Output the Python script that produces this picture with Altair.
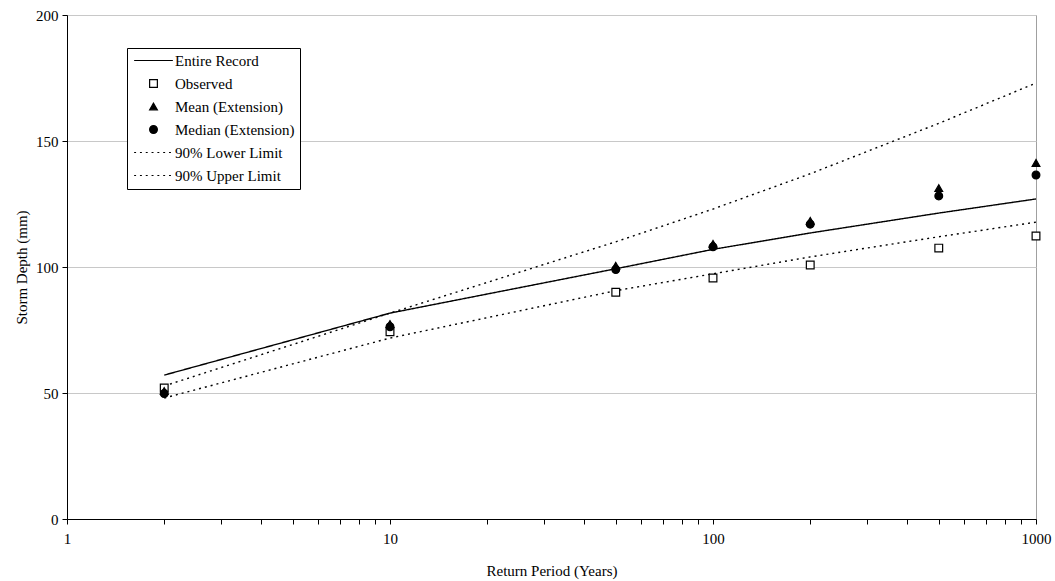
import altair as alt
import pandas as pd

# ---- data ----
return_period = [2, 10, 50, 100, 200, 500, 1000]
entire_record = [57.1, 81.7, 99.3, 107.0, 113.5, 121.4, 127.0]
observed = [52.0, 74.3, 90.0, 95.6, 100.8, 107.5, 112.3]
mean_ext = [50.8, 77.4, 100.5, 109.2, 118.3, 131.3, 141.3]
median_ext = [49.8, 76.3, 99.0, 108.0, 117.0, 128.2, 136.5]
lower_90 = [48.0, 71.8, 90.6, 97.3, 104.0, 112.0, 117.8]
upper_90 = [52.8, 81.7, 110.0, 123.0, 137.0, 157.0, 173.0]

legend_order = ["Entire Record", "Observed", "Mean (Extension)",
                "Median (Extension)", "90% Lower Limit", "90% Upper Limit"]
x_ticks = [1, 2, 3, 4, 5, 6, 7, 8, 9, 10, 20, 30, 40, 50, 60, 70, 80, 90,
           100, 200, 300, 400, 500, 600, 700, 800, 900, 1000]
y_ticks = [0, 50, 100, 150, 200]

line_series = {"Entire Record": entire_record,
               "90% Lower Limit": lower_90,
               "90% Upper Limit": upper_90}
point_series = {"Observed": observed,
                "Mean (Extension)": mean_ext,
                "Median (Extension)": median_ext}

lines_df = pd.DataFrame([
    {"period": p, "depth": v, "series": s}
    for s, vals in line_series.items() for p, v in zip(return_period, vals)
])
points_df = pd.DataFrame([
    {"period": p, "depth": v, "series": s}
    for s, vals in point_series.items() for p, v in zip(return_period, vals)
])

FONT = "Liberation Serif"

solid_path = "M-5,0H5"
dot_path = ("M-5,0h0.5M-3.5,0h0.5M-2,0h0.5M-0.5,0h0.5"
            "M1,0h0.5M2.5,0h0.5M4,0h0.5")

x_enc = alt.X(
    "period:Q",
    scale=alt.Scale(type="log", domain=[1, 1000]),
    axis=alt.Axis(
        title="Return Period (Years)",
        values=x_ticks,
        labelExpr="(datum.value == 1 || datum.value == 10 || datum.value == 100 || datum.value == 1000) ? format(datum.value, 'd') : ''",
        grid=False,
        labelFlush=False,
        labelOverlap=False,
        tickSize=5,
        labelPadding=7,
        titlePadding=17,
    ),
)
y_enc = alt.Y(
    "depth:Q",
    scale=alt.Scale(domain=[0, 200]),
    axis=alt.Axis(
        title="Storm Depth (mm)",
        values=y_ticks,
        grid=True,
        gridColor="#c8c8c8",
        labelFlush=False,
        tickSize=5,
        labelPadding=4,
        titlePadding=6,
    ),
)

lines = alt.Chart(lines_df).mark_line(color="black", strokeWidth=1.4).encode(
    x=x_enc,
    y=y_enc,
    strokeDash=alt.StrokeDash(
        "series:N",
        scale=alt.Scale(domain=list(line_series.keys()),
                        range=[[1, 0], [2, 4], [2, 4]]),
        legend=None,
    ),
)

points = alt.Chart(points_df).mark_point(
    strokeWidth=1.2, size=60, opacity=1
).encode(
    x=x_enc,
    y=y_enc,
    shape=alt.Shape(
        "series:N",
        scale=alt.Scale(domain=legend_order,
                        range=[solid_path, "square", "triangle-up", "circle",
                               dot_path, dot_path]),
        legend=alt.Legend(title=None),
    ),
    fill=alt.Fill(
        "series:N",
        scale=alt.Scale(domain=legend_order,
                        range=["transparent", "white", "black", "black",
                               "transparent", "transparent"]),
        legend=alt.Legend(title=None),
    ),
    stroke=alt.Stroke(
        "series:N",
        scale=alt.Scale(domain=legend_order,
                        range=["black"] * 6),
        legend=alt.Legend(title=None),
    ),
)

chart = alt.layer(lines, points).properties(
    width=969,
    height=504,
    autosize=alt.AutoSizeParams(type="none"),
    padding={"left": 67, "top": 15, "right": 19, "bottom": 62},
    background="white",
).configure_view(
    stroke="#a0a0a0", strokeWidth=1
).configure_axis(
    domainColor="black",
    tickColor="black",
    labelColor="black",
    titleColor="black",
    labelFont=FONT,
    titleFont=FONT,
    labelFontSize=15,
    titleFontSize=15,
    titleFontWeight="normal",
).configure_legend(
    orient="none",
    legendX=60,
    legendY=33,
    padding=5,
    strokeColor="black",
    fillColor="white",
    cornerRadius=0,
    labelFont=FONT,
    labelFontSize=15,
    labelColor="black",
    symbolSize=60,
    symbolStrokeColor="black",
    symbolStrokeWidth=1.2,
    symbolOffset=14,
    labelOffset=14,
    rowPadding=7,
)

chart.save("out.html", embed_options={"renderer": "svg", "actions": False})
